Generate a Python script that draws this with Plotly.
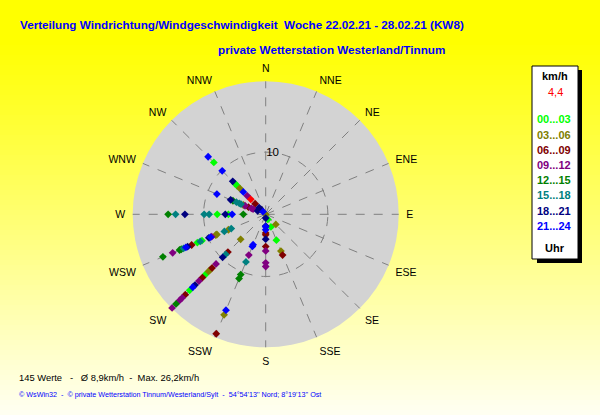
import plotly.graph_objects as go

# Windrichtungen (16 Sektoren, N oben, im Uhrzeigersinn)
richtungen = ["N", "NNE", "NE", "ENE", "E", "ESE", "SE", "SSE",
              "S", "SSW", "SW", "WSW", "W", "WNW", "NW", "NNW"]

# Stundenklassen und Farben (Legende)
klassen = ["00...03", "03...06", "06...09", "09...12",
           "12...15", "15...18", "18...21", "21...24"]
farben = ["#00ff00", "#808000", "#800000", "#800080",
          "#008000", "#008080", "#000080", "#0000ff"]

# Messwerte: Richtung, Geschwindigkeit (Achsenskala), Stundenklasse (Index in klassen)
wert_richtung = (
    ["NW"] * 13 +
    ["WNW"] * 12 +
    ["W"] * 10 +
    ["WSW"] * 19 +
    ["SW"] * 19 +
    ["SSW"] * 9 +
    ["S"] * 11 +
    ["SSE"] * 5 +
    ["SE", "N"]
)
wert_kmh = [
    13.1, 11.8, 9.9, 7.5, 7.0, 6.5, 5.9, 5.1, 4.2, 2.4, 1.5, 1.1, 0.6,
    8.5, 6.1, 5.7, 5.1, 4.6, 4.3, 3.9, 3.6, 3.0, 2.5, 2.2, 1.4,
    15.7, 14.5, 13.0, 9.9, 9.1, 7.8, 6.5, 6.0, 5.4, 3.6,
    17.9, 16.2, 15.0, 14.7, 14.3, 13.9, 13.6, 12.9, 11.9, 11.4, 11.1, 9.9, 9.6, 9.4, 8.7, 8.5, 7.2, 6.5, 6.0,
    21.3, 20.4, 19.6, 19.0, 18.3, 17.3, 16.6, 16.1, 15.2, 14.4, 13.7, 13.0, 12.6, 12.2, 11.3, 9.8, 9.1, 8.6, 5.7,
    20.8, 17.5, 16.7, 11.2, 10.5, 8.3, 7.1, 5.6, 5.3,
    8.4, 7.8, 5.9, 5.2, 4.0, 3.3, 3.0, 2.5, 2.0, 1.9, 0.6,
    0.9, 2.2, 4.5, 6.4, 7.1,
    2.3, 0.0,
]
wert_klasse = [
    7, 0, 7, 6, 0, 0, 1, 7, 3, 2, 6, 6, 7,
    7, 6, 4, 5, 5, 5, 1, 3, 2, 3, 3, 6,
    4, 5, 6, 5, 5, 0, 6, 0, 7, 4,
    4, 3, 4, 4, 5, 7, 6, 2, 0, 5, 0, 6, 7, 3, 1, 1, 5, 1, 5,
    3, 4, 3, 3, 2, 0, 7, 6, 3, 2, 0, 1, 1, 2, 3, 6, 5, 2, 1,
    2, 1, 7, 4, 4, 5, 3, 7, 7,
    3, 3, 3, 2, 6, 2, 2, 7, 7, 6, 6,
    0, 0, 0, 1, 2,
    1, 1,
]

# aktueller Wert (rot)
akt_richtung = ["NW"]
akt_kmh = [3.4]
akt_text = "4,4"

winkel = {r: i * 22.5 for i, r in enumerate(richtungen)}

fig = go.Figure()
for k, (name, farbe) in enumerate(zip(klassen, farben)):
    th = [winkel[r] for r, c in zip(wert_richtung, wert_klasse) if c == k]
    rr = [v for v, c in zip(wert_kmh, wert_klasse) if c == k]
    fig.add_trace(go.Scatterpolar(
        r=rr, theta=th, mode="markers", name=name,
        marker=dict(symbol="diamond", size=6, color=farbe),
        cliponaxis=False,
    ))
fig.add_trace(go.Scatterpolar(
    r=akt_kmh, theta=[winkel[r] for r in akt_richtung], mode="markers",
    name="aktuell", marker=dict(symbol="diamond", size=6, color="#ff0000"),
))

# Hintergrund: gelber Verlauf von oben nach unten
shapes = []
H = 415
step = 5
for y0 in range(0, H, step):
    t = max(0.0, (y0 - 40) / (H - 40))
    b = int(245 * t)
    shapes.append(dict(
        type="rect", xref="paper", yref="paper", layer="below",
        x0=0, x1=1, y0=1 - (y0 + step) / H, y1=1 - y0 / H,
        fillcolor=f"rgb(255,255,{b})", line=dict(width=0),
    ))

# Legendenkasten mit Schatten
def px(x):
    return x / 600

def py(y):
    return 1 - y / 415

shapes.append(dict(type="rect", xref="paper", yref="paper",
                   x0=px(537), x1=px(582), y0=py(263), y1=py(70),
                   fillcolor="black", line=dict(width=0)))
shapes.append(dict(type="rect", xref="paper", yref="paper",
                   x0=px(532), x1=px(578), y0=py(259), y1=py(66),
                   fillcolor="white", line=dict(color="black", width=1)))

arial = "Liberation Sans, Arial"

annotations = [
    dict(text="<b>Verteilung Windrichtung/Windgeschwindigkeit  Woche 22.02.21 - 28.02.21 (KW8)</b>",
         x=px(18), y=py(25), xanchor="left", yanchor="middle",
         font=dict(family=arial, size=11.7, color="#0000ff")),
    dict(text="<b>private Wetterstation Westerland/Tinnum</b>",
         x=px(216), y=py(50), xanchor="left", yanchor="middle",
         font=dict(family=arial, size=11.7, color="#0000ff")),
    dict(text="145 Werte   -   Ø 8,9km/h  -  Max. 26,2km/h",
         x=px(17), y=py(377), xanchor="left", yanchor="middle",
         font=dict(family=arial, size=9.4, color="black")),
    dict(text="© WsWin32  -  © private Wetterstation Tinnum/Westerland/Sylt  -  54°54'13'' Nord; 8°19'13'' Ost",
         x=px(17), y=py(394), xanchor="left", yanchor="middle",
         font=dict(family=arial, size=7.2, color="#0000ff")),
    dict(text="<b>km/h</b>", x=px(555), y=py(76), xanchor="center", yanchor="middle",
         font=dict(family=arial, size=11, color="black")),
    dict(text=akt_text, x=px(555), y=py(92), xanchor="center", yanchor="middle",
         font=dict(family=arial, size=11, color="#ff0000")),
    dict(text="<b>Uhr</b>", x=px(555), y=py(248), xanchor="center", yanchor="middle",
         font=dict(family=arial, size=11, color="black")),
]
for i, (name, farbe) in enumerate(zip(klassen, farben)):
    annotations.append(dict(
        text=f"<b>{name}</b>", x=px(554), y=py(119.3 + i * 15.2),
        xanchor="center", yanchor="middle",
        font=dict(family=arial, size=11, color=farbe)))
for a in annotations:
    a.update(xref="paper", yref="paper", showarrow=False)

cx, cy, rad = 265.7, 214.3, 133
fig.update_layout(
    width=600, height=415,
    margin=dict(l=0, r=0, t=0, b=0),
    paper_bgcolor="#ffff00",
    showlegend=False,
    shapes=shapes,
    annotations=annotations,
    polar=dict(
        domain=dict(x=[px(cx - rad), px(cx + rad)], y=[py(cy + rad), py(cy - rad)]),
        bgcolor="#d3d3d3",
        angularaxis=dict(
            rotation=90, direction="clockwise", thetaunit="degrees",
            tickmode="array", tickvals=[winkel[r] for r in richtungen], ticktext=richtungen,
            showline=False, ticks="outside", ticklen=5, tickcolor="rgba(0,0,0,0)",
            gridcolor="#808080", griddash="dash", gridwidth=1,
            tickfont=dict(family=arial, size=10.5, color="black"),
        ),
        radialaxis=dict(
            range=[0, 21.4], tickmode="array", tickvals=[10], ticktext=["10"],
            showline=False, ticks="", angle=90, tickangle=90, side="clockwise",
            gridcolor="#808080", griddash="dash", gridwidth=1,
            tickfont=dict(family=arial, size=11.5, color="black"),
        ),
    ),
)

# Seitenrand des Browsers entfernen, damit die Grafik bei (0,0) beginnt
fig.write_html("out.html", config={"displayModeBar": False},
               post_script="document.body.style.margin='0';")
